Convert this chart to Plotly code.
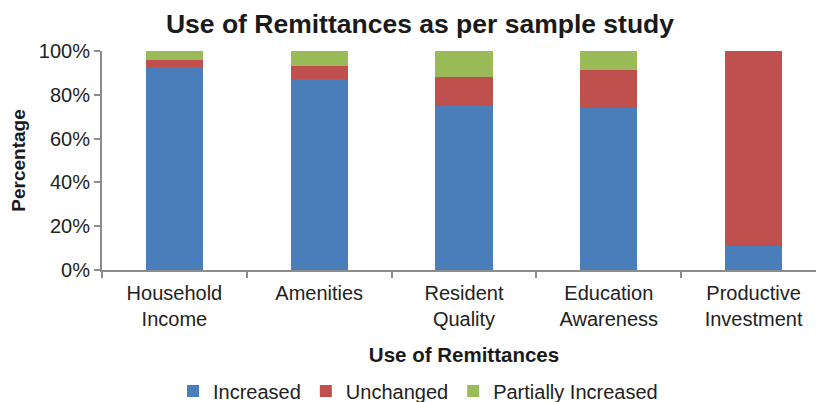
import plotly.graph_objects as go

categories = ["Household<br>Income", "Amenities", "Resident<br>Quality", "Education<br>Awareness", "Productive<br>Investment"]
increased = [92.5, 87, 75, 74, 11]
unchanged = [3.5, 6, 13, 17.5, 89]
partially = [4, 7, 12, 8.5, 0]
y_ticks = [0, 20, 40, 60, 80, 100]
y_ticklabels = ["0%", "20%", "40%", "60%", "80%", "100%"]

font_family = "Liberation Sans, Arial, sans-serif"
W, H = 824, 402
OFF = 8  # page body margin offset

fig = go.Figure()
fig.add_bar(x=categories, y=increased, name="Increased", marker=dict(color="#4A7EBB", line=dict(width=0)))
fig.add_bar(x=categories, y=unchanged, name="Unchanged", marker=dict(color="#C0504D", line=dict(width=0)))
fig.add_bar(x=categories, y=partially, name="Partially Increased", marker=dict(color="#9BBB59", line=dict(width=0)))

fig.update_layout(
    barmode="stack",
    bargap=0.605,
    width=W, height=H,
    margin=dict(l=102 - OFF, r=OFF - 2, t=51 - OFF, b=H - (270 - OFF), autoexpand=False),
    paper_bgcolor="white", plot_bgcolor="white",
    font=dict(family=font_family, size=20, color="#222222"),
    title=dict(text="<b>Use of Remittances as per sample study</b>", x=(420 - OFF) / W, xref="container", xanchor="center",
               y=1 - (24 - OFF) / H, yref="container", yanchor="middle", font=dict(size=26.5, color="#1a1a1a")),
    showlegend=True,
    legend=dict(orientation="h", x=(418 - OFF) / W, xanchor="center", xref="container", y=(H - (391 - OFF)) / H, yref="container",
                yanchor="middle", font=dict(size=20, color="#222222"), traceorder="normal", itemwidth=30),
    xaxis=dict(
        showline=True, linecolor="#8C8C8C", linewidth=2,
        ticks="outside", tickson="boundaries", ticklen=6, tickcolor="#8C8C8C", tickwidth=2,
        ticklabelstandoff=4,
        title=dict(text="<b>Use of Remittances</b>", font=dict(size=20.5, color="#1a1a1a"), standoff=19),
        tickfont=dict(size=20, color="#222222"),
    ),
    yaxis=dict(
        range=[0, 100], tickvals=y_ticks, ticktext=y_ticklabels,
        showline=True, linecolor="#8C8C8C", linewidth=2,
        ticks="outside", ticklen=6, tickcolor="#8C8C8C", tickwidth=2,
        showgrid=False, zeroline=False,
        title=dict(text="<b>Percentage</b>", font=dict(size=19, color="#1a1a1a"), standoff=20),
        tickfont=dict(size=20, color="#222222"),
    ),
)

fig.write_html("out.html")
